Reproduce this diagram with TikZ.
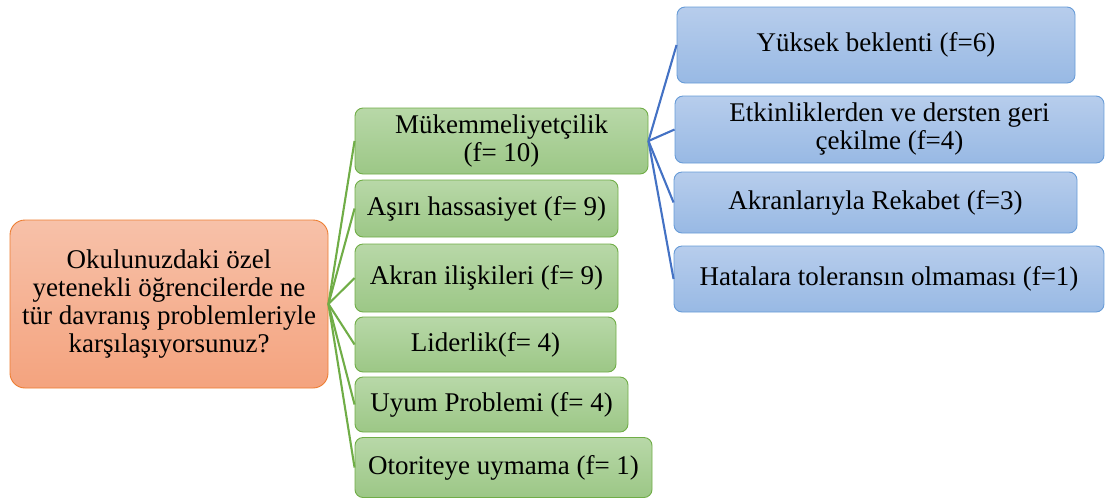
\documentclass[tikz,border=0pt]{standalone}
\usepackage{fontspec}
\setmainfont{Liberation Serif}
\usepackage{tikz}

\definecolor{kokust}{RGB}{247,193,169}
\definecolor{kokalt}{RGB}{244,163,126}
\definecolor{kokcizgi}{RGB}{237,125,49}
\definecolor{yesilust}{RGB}{184,216,168}
\definecolor{yesilalt}{RGB}{156,199,134}
\definecolor{yesilcizgi}{RGB}{112,173,71}
\definecolor{maviust}{RGB}{183,205,236}
\definecolor{mavialt}{RGB}{152,185,228}
\definecolor{mavicizgi}{RGB}{103,155,215}
\definecolor{mavibag}{RGB}{68,114,196}

\begin{document}
\begin{tikzpicture}[x=1pt,y=-1pt,
  font=\fontsize{27}{28}\selectfont,
  kok/.style={draw=kokcizgi, line width=0.9pt, rounded corners=15pt, top color=kokust, bottom color=kokalt, align=center, inner sep=0pt},
  yesil/.style={draw=yesilcizgi, line width=0.9pt, rounded corners=8pt, top color=yesilust, bottom color=yesilalt, align=center, inner sep=0pt},
  mavi/.style={draw=mavicizgi, line width=0.9pt, rounded corners=8pt, top color=maviust, bottom color=mavialt, align=center, inner sep=0pt},
  yesilbag/.style={draw=yesilcizgi, line width=2.1pt},
  mavibagc/.style={draw=mavibag, line width=2.1pt}]
\useasboundingbox (0,0) rectangle (1105,499);
\node[kok, minimum width=318pt, minimum height=168pt] (soru) at (169,304) {Okulunuzdaki özel\\yetenekli öğrencilerde ne\\tür davranış problemleriyle\\karşılaşıyorsunuz?};
\node[yesil, minimum width=293pt, minimum height=66pt] (mukemmel) at (501.5,141) {Mükemmeliyetçilik\\(f= 10)};
\node[yesil, minimum width=263pt, minimum height=57pt] (hassas) at (486.5,208.5) {Aşırı hassasiyet (f= 9)};
\node[yesil, minimum width=263pt, minimum height=68pt] (akran) at (486.5,278) {Akran ilişkileri (f= 9)};
\node[yesil, minimum width=261pt, minimum height=55pt] (lider) at (485.5,344.5) {Liderlik(f= 4)};
\node[yesil, minimum width=273pt, minimum height=55pt] (uyum) at (491.5,404.5) {Uyum Problemi (f= 4)};
\node[yesil, minimum width=297pt, minimum height=60pt] (otorite) at (503.5,467.5) {Otoriteye uymama (f= 1)};
\node[mavi, minimum width=398pt, minimum height=76pt] (yuksek) at (876,45) {Yüksek beklenti (f=6)};
\node[mavi, minimum width=429pt, minimum height=67pt] (geri) at (889.5,129.5) {Etkinliklerden ve dersten geri\\çekilme (f=4)};
\node[mavi, minimum width=403pt, minimum height=61pt] (rekabet) at (875.5,202.5) {Akranlarıyla Rekabet (f=3)};
\node[mavi, minimum width=430pt, minimum height=66pt] (tolerans) at (889,279) {Hatalara toleransın olmaması (f=1)};
\foreach \n in {mukemmel,hassas,akran,lider,uyum,otorite}
  \draw[yesilbag] (soru.east) -- (\n.west);
\foreach \n in {yuksek,geri,rekabet,tolerans}
  \draw[mavibagc] (mukemmel.east) -- (\n.west);
\end{tikzpicture}
\end{document}
